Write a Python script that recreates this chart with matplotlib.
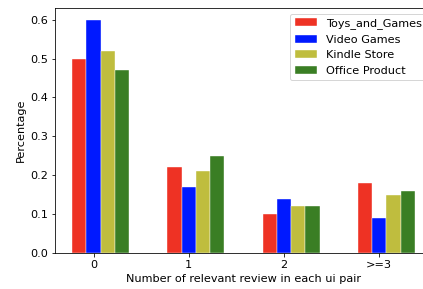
import matplotlib
matplotlib.use("Agg")
import matplotlib.pyplot as plt
import numpy as np

# 每组 ui pair 中相关评论数量对应的占比
categories = ["0", "1", "2", ">=3"]
series_names = ["Toys_and_Games", "Video Games", "Kindle Store", "Office Product"]
toys_and_games = [0.50, 0.22, 0.10, 0.18]
video_games = [0.60, 0.17, 0.14, 0.09]
kindle_store = [0.52, 0.21, 0.12, 0.15]
office_product = [0.47, 0.25, 0.12, 0.16]

colors = ["#ee3224", "#0019ff", "#bfbd3e", "#3a7e24"]
series_values = [toys_and_games, video_games, kindle_store, office_product]

plt.rcParams["font.size"] = 11.2

fig = plt.figure(figsize=(423 / 72, 289 / 72), dpi=72)
# 原图右侧被裁掉，坐标轴延伸到画布之外
ax = fig.add_axes([55 / 423, 36 / 289, 377 / 423, 245 / 289])

x = np.arange(len(categories))
width = 0.15
for i, (name, values, color) in enumerate(zip(series_names, series_values, colors)):
    ax.bar(x + (i - 1) * width, values, width, label=name, color=color,
           edgecolor="white", linewidth=0.4)

ax.set_xticks(x)
ax.set_xticklabels(categories)
ax.set_xlabel("Number of relevant review in each ui pair")
ax.set_ylabel("Percentage")
ax.legend(loc="upper right")

fig.savefig("out.png", dpi=72)
